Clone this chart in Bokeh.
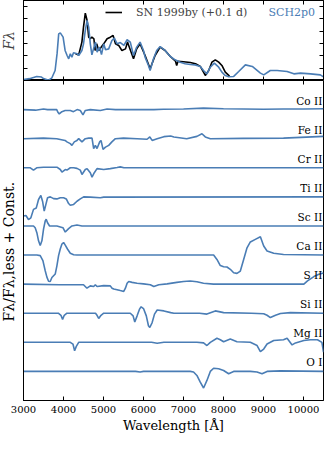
from bokeh.plotting import figure
from bokeh.models import (ColumnDataSource, Legend, LegendItem, LinearAxis,
                          FixedTicker, Label, Range1d, CustomJSTickFormatter)
from bokeh.layouts import column
from bokeh.core.properties import value
from bokeh.embed import file_html
from bokeh.resources import INLINE

# ---------------- data ----------------
model_name = "SCH2p0"
obs_name = "SN 1999by (+0.1 d)"

model_wave = [3000, 3150, 3330, 3450, 3500, 3630, 3710, 3790, 3840, 3880, 3920, 3990,
              4040, 4090, 4130, 4170, 4210, 4250, 4340, 4380, 4460, 4500, 4545, 4590,
              4630, 4670, 4710, 4750, 4800, 4840, 4900, 4950, 5005, 5050, 5130, 5210,
              5272, 5340, 5420, 5510, 5590, 5670, 5750, 5830, 5915, 6000, 6040, 6124,
              6166, 6250, 6330, 6416, 6540, 6670, 6790, 6920, 7040, 7170, 7290, 7420,
              7500, 7586, 7670, 7770, 7880, 7960, 8045, 8130, 8255, 8380, 8547, 8720,
              8923, 9007, 9170, 9341, 9590, 9759, 9925, 10176, 10420, 10500]
model_flux = [0.08, 0.15, 0.33, 0.28, 0.16, 0.02, 0.22, 0.81, 2.2, 3.79, 3.87, 3.52,
              2.44, 2.03, 1.76, 2.17, 1.90, 2.25, 2.17, 2.03, 2.44, 2.98, 4.07, 4.88,
              4.34, 2.98, 2.08, 2.57, 3.12, 2.30, 2.71, 2.10, 2.98, 2.50, 2.57, 3.25,
              3.45, 2.98, 3.08, 2.85, 3.31, 3.12, 2.03, 2.71, 3.12, 2.44, 1.90, 1.22,
              0.81, 1.76, 2.44, 2.76, 2.44, 1.95, 1.68, 1.49, 1.36, 1.30, 1.27, 1.14,
              0.81, 0.54, 1.08, 1.41, 1.08, 0.68, 0.40, 0.30, 0.33, 0.73, 1.27, 1.14,
              0.60, 0.46, 0.81, 0.81, 0.73, 0.54, 0.60, 0.54, 0.46, 0.30]

obs_wave = [4300, 4380, 4460, 4500, 4545, 4590, 4630, 4670, 4710, 4760, 4790, 4830,
            4880, 5005, 5090, 5170, 5240, 5300, 5380, 5460, 5550, 5600, 5630, 5750,
            5830, 5915, 6040, 6166, 6290, 6416, 6540, 6670, 6800, 6830, 6860, 7000,
            7170, 7300, 7420, 7500, 7545, 7630, 7710, 7795, 7880, 7960, 8045, 8150]
obs_flux = [2.17, 2.08, 3.12, 4.34, 5.47, 4.88, 3.52, 3.39, 3.52, 3.39, 2.44, 2.98,
            2.44, 2.98, 3.39, 3.52, 3.66, 2.98, 2.85, 2.44, 2.57, 3.12, 2.85, 1.76,
            2.57, 2.98, 2.03, 0.95, 2.03, 2.71, 2.44, 1.95, 1.57, 1.22, 1.57, 1.52,
            1.46, 1.36, 1.14, 0.68, 0.41, 0.81, 1.49, 1.68, 1.49, 1.22, 0.68, 0.35]

ions = ["O I", "Mg II", "Si II", "S II", "Ca II", "Sc II", "Ti II", "Cr II", "Fe II", "Co II"]
offsets = [0, 1, 2, 3, 4, 5, 6, 7, 8, 9]

co2_wave = [3000, 3300, 3500, 3600, 3830, 3860, 3894, 3960, 4040, 4170, 4250, 4340, 4420,
            4487, 4545, 4670, 4920, 5090, 5300, 6258, 6500, 7000, 7500, 8000, 8500, 9000,
            9500, 10000, 10500]
co2_ratio = [1.0, 0.98, 1.02, 1.0, 1.0, 0.91, 0.85, 0.93, 0.97, 0.97, 0.93, 1.0, 0.97,
             0.82, 0.97, 1.0, 0.97, 1.02, 1.0, 1.0, 1.01, 1.02, 1.05, 1.03, 1.02, 1.01,
             1.02, 1.02, 1.03]

fe2_wave = [3000, 3500, 3830, 4040, 4086, 4170, 4211, 4270, 4337, 4380, 4462, 4545, 4630,
            4713, 4754, 4796, 4838, 4905, 4938, 4988, 5050, 5130, 5210, 5297, 5500, 5840,
            6090, 6158, 6216, 6340, 6510, 6680, 6760, 7080, 7336, 7461, 7545, 7670, 8500,
            9500, 10500]
fe2_ratio = [1.0, 1.02, 1.0, 0.94, 0.89, 0.83, 0.77, 0.89, 0.94, 1.0, 0.89, 1.0, 1.02,
             1.02, 0.66, 0.77, 0.66, 0.89, 0.94, 0.63, 0.71, 0.77, 0.89, 1.0, 1.02, 1.0,
             0.98, 1.06, 0.94, 1.0, 1.07, 1.09, 1.06, 1.0, 1.08, 1.17, 1.06, 1.0, 1.01,
             1.02, 1.08]

cr2_wave = [3000, 3170, 3250, 3330, 3500, 3835, 3920, 3961, 4044, 4086, 4170, 4253, 4337,
            4420, 4462, 4545, 4590, 4670, 4713, 4770, 4838, 5005, 5170, 5340, 5420, 5510,
            10500]
cr2_ratio = [1.0, 1.0, 0.92, 1.0, 1.02, 1.02, 0.94, 0.85, 0.94, 0.92, 1.0, 1.0, 0.98,
             0.92, 0.77, 0.94, 0.97, 0.83, 0.68, 0.83, 0.97, 0.94, 0.97, 1.01, 1.03, 1.0,
             1.0]

ti2_wave = [3000, 3060, 3125, 3184, 3250, 3320, 3376, 3434, 3476, 3518, 3560, 3601, 3670,
            3752, 3835, 3919, 4002, 4069, 4128, 4170, 4253, 4337, 4420, 4504, 4670, 4921,
            5005, 10500]
ti2_ratio = [0.34, 0.36, 0.22, 0.28, 0.57, 0.62, 0.91, 1.05, 0.85, 0.51, 0.74, 0.97, 1.0,
             0.94, 0.93, 0.97, 0.97, 0.93, 0.77, 0.71, 0.74, 0.85, 0.93, 1.0, 0.99, 0.97,
             0.99, 1.0]

sc2_wave = [3000, 3250, 3292, 3334, 3376, 3418, 3460, 3501, 3543, 3568, 3601, 3652, 3835,
            3986, 4044, 4128, 4211, 4337, 4462, 10500]
sc2_ratio = [1.0, 1.0, 0.94, 0.77, 0.49, 0.33, 0.49, 0.89, 1.17, 1.23, 1.11, 1.0, 1.0,
             0.94, 0.79, 0.91, 1.0, 1.03, 1.0, 1.0]

ca2_wave = [3000, 3334, 3418, 3485, 3543, 3585, 3627, 3668, 3710, 3752, 3794, 3835, 3877,
            3919, 3961, 4002, 4044, 4103, 4170, 4253, 4337, 7650, 7753, 7836, 7920, 8003,
            8087, 8170, 8254, 8337, 8421, 8504, 8588, 8671, 8796, 8922, 9005, 9089, 9256,
            9500, 10500]
ca2_ratio = [1.0, 1.0, 0.98, 0.81, 0.46, 0.24, 0.10, 0.09, 0.23, 0.29, 0.35, 0.63, 0.98,
             1.21, 1.38, 1.43, 1.34, 1.20, 1.06, 1.01, 1.0, 1.0, 1.0, 0.85, 0.64, 0.60,
             0.59, 0.51, 0.39, 0.37, 0.45, 0.85, 1.25, 1.45, 1.54, 1.63, 1.31, 1.14, 1.06,
             1.02, 1.0]

s2_wave = [3000, 3900, 4170, 4500, 4587, 4670, 4754, 4796, 4838, 5005, 5170, 5214, 5256,
           5339, 5420, 5506, 5548, 5590, 5631, 5715, 5840, 6000, 6170, 6258, 6383, 6590,
           6834, 7001, 7168, 7335, 7500, 7750, 9900, 10009, 10100, 10260, 10385, 10500]
s2_ratio = [1.0, 0.98, 0.98, 0.98, 0.86, 0.94, 0.92, 0.98, 0.92, 0.95, 0.94, 0.86, 0.83,
            0.81, 0.78, 0.75, 0.86, 1.03, 1.09, 1.06, 1.03, 1.01, 0.98, 0.92, 0.98, 1.01,
            1.06, 1.09, 1.11, 1.08, 1.03, 1.0, 1.0, 1.0, 1.11, 1.26, 1.34, 1.38]

si2_wave = [3000, 3870, 3936, 3977, 4019, 4086, 4800, 4838, 4880, 4938, 5005, 5670, 5740,
            5782, 5840, 5900, 5941, 6000, 6070, 6124, 6158, 6216, 6275, 6342, 6510, 6680,
            6760, 7400, 7586, 7795, 8003, 8700, 9005, 9089, 9172, 9300, 9423, 9673, 10500]
si2_ratio = [1.0, 1.0, 0.93, 0.79, 0.93, 1.0, 1.0, 0.93, 0.82, 0.93, 1.0, 1.0, 0.91,
             0.70, 0.91, 1.14, 1.22, 1.16, 0.91, 0.57, 0.51, 0.68, 0.97, 1.11, 1.08, 1.02,
             1.0, 1.0, 0.97, 1.08, 1.02, 1.0, 0.98, 0.93, 0.85, 0.93, 0.99, 1.02, 1.0]

mg2_wave = [3000, 4170, 4236, 4278, 4320, 4380, 6200, 6342, 6510, 7335, 7502, 7586, 7670,
            7836, 7920, 8003, 8170, 8337, 8671, 8840, 8922, 9005, 9089, 9256, 9500, 9590,
            9715, 9800, 10009, 10176, 10350, 10460, 10500]
mg2_ratio = [1.0, 1.0, 0.94, 0.71, 0.86, 1.0, 1.0, 0.97, 1.0, 1.0, 0.98, 0.89, 1.0,
             1.14, 1.09, 1.02, 1.11, 1.02, 1.0, 0.89, 0.68, 0.77, 0.94, 1.06, 1.09, 1.14,
             0.91, 0.98, 1.06, 1.09, 1.09, 1.0, 0.66]

o1_wave = [3000, 5800, 5915, 6000, 7168, 7251, 7335, 7419, 7502, 7586, 7670, 7753, 7878,
           8003, 8128, 8254, 8671, 8838, 8963, 9089, 9423, 10500]
o1_ratio = [1.0, 1.0, 0.98, 1.0, 1.0, 0.98, 0.86, 0.63, 0.43, 0.69, 1.0, 1.11, 1.09,
            1.03, 0.92, 1.0, 1.0, 0.98, 0.92, 1.0, 1.02, 1.0]

ion_waves = [o1_wave, mg2_wave, si2_wave, s2_wave, ca2_wave, sc2_wave, ti2_wave,
             cr2_wave, fe2_wave, co2_wave]
ion_ratios = [o1_ratio, mg2_ratio, si2_ratio, s2_ratio, ca2_ratio, sc2_ratio, ti2_ratio,
              cr2_ratio, fe2_ratio, co2_ratio]

x_ticks = [3000, 4000, 5000, 6000, 7000, 8000, 9000, 10000]

# ---------------- style ----------------
BLUE = "#4a7db5"
FONT = "DejaVu Serif"
W = 331
XR = (3000, 10500)
empty = CustomJSTickFormatter(code="return '';")


def inner_axis(ax, ticks=None):
    ax.major_tick_in = 4
    ax.major_tick_out = 0
    ax.minor_tick_in = 0
    ax.minor_tick_out = 0
    ax.major_label_text_font_size = "0px"
    ax.major_label_standoff = 0
    ax.formatter = empty
    ax.axis_line_color = "black"
    ax.major_tick_line_color = "black"
    if ticks is not None:
        ax.ticker = FixedTicker(ticks=ticks)


# ---------------- top panel ----------------
top = figure(width=W, height=84, x_range=Range1d(*XR), y_range=Range1d(0, 6.5),
             output_backend="svg", toolbar_location=None,
             min_border_left=27, min_border_right=4, min_border_top=4, min_border_bottom=0)
top.grid.visible = False
top.outline_line_color = "black"
top.background_fill_color = "white"

r_obs = top.line(obs_wave, obs_flux, line_color="black", line_width=1.6)
top.line(model_wave, model_flux, line_color=BLUE, line_width=1.6)

inner_axis(top.xaxis[0], x_ticks)
inner_axis(top.yaxis[0], [0, 1, 2, 3, 4, 5, 6])
top.yaxis[0].axis_label = "Fλ"
top.yaxis[0].axis_label_text_font = FONT
top.yaxis[0].axis_label_text_font_size = "14px"
top.yaxis[0].axis_label_text_font_style = "italic"
top.yaxis[0].axis_label_standoff = 7
ax_r = LinearAxis()
inner_axis(ax_r, [0, 1, 2, 3, 4, 5, 6])
top.add_layout(ax_r, "right")
ax_t = LinearAxis()
inner_axis(ax_t, x_ticks)
top.add_layout(ax_t, "above")

leg = Legend(items=[LegendItem(label=obs_name, renderers=[r_obs])],
             location=(82, 58), orientation="horizontal")
leg.background_fill_alpha = 0
leg.border_line_alpha = 0
leg.padding = 0
leg.margin = 0
leg.glyph_width = 17
leg.label_standoff = 14
leg.label_text_font = FONT
leg.label_text_font_size = "11px"
top.add_layout(leg)

top.add_layout(Label(x=10290, y=5.5, text=model_name, text_align="right",
                     text_baseline="middle", text_color=BLUE, text_font=FONT,
                     text_font_size="11px"))

# ---------------- bottom panel ----------------
bot = figure(width=W, height=366, x_range=top.x_range, y_range=Range1d(-1, 10),
             output_backend="svg", toolbar_location=None,
             min_border_left=27, min_border_right=4, min_border_top=0, min_border_bottom=46)
bot.grid.visible = False
bot.outline_line_color = "black"
bot.background_fill_color = "white"

for wv, rt, off in zip(ion_waves, ion_ratios, offsets):
    bot.line(wv, [r - 1 + off for r in rt], line_color=BLUE, line_width=1.6)

lab_src = ColumnDataSource(dict(x=[10470] * len(ions), y=[o + 0.31 for o in offsets],
                                text=ions))
bot.text(x="x", y="y", text="text", source=lab_src, text_align="right",
         text_baseline="middle", text_font=value(FONT), text_font_size="10.5px",
         text_color="black")

xa = bot.xaxis[0]
xa.ticker = FixedTicker(ticks=x_ticks)
xa.major_tick_in = 4
xa.major_tick_out = 0
xa.minor_tick_in = 0
xa.minor_tick_out = 0
xa.major_label_text_font = FONT
xa.major_label_text_font_size = "10px"
xa.major_label_text_color = "black"
xa.major_label_standoff = 5
xa.axis_label = "Wavelength [Å]"
xa.axis_label_text_font = FONT
xa.axis_label_text_font_size = "13px"
xa.axis_label_text_font_style = "normal"
xa.axis_label_text_color = "black"
xa.axis_label_standoff = 2
xa.axis_line_color = "black"

ya = bot.yaxis[0]
ya.ticker = FixedTicker(ticks=[])
ya.major_tick_in = 0
ya.major_tick_out = 0
ya.minor_tick_in = 0
ya.minor_tick_out = 0
ya.major_label_text_font_size = "0px"
ya.major_label_standoff = 0
ya.axis_label = "Fλ/Fλ,less + Const.\u00a0\u00a0\u00a0\u00a0\u00a0"
ya.axis_label_text_font = FONT
ya.axis_label_text_font_size = "14px"
ya.axis_label_text_font_style = "normal"
ya.axis_label_text_color = "black"
ya.axis_label_standoff = 7

bt = LinearAxis()
inner_axis(bt, x_ticks)
bot.add_layout(bt, "above")

layout = column(top, bot, spacing=0, margin=(-4, 0, 0, -4))

open("out.html", "w").write(file_html(layout, INLINE))
